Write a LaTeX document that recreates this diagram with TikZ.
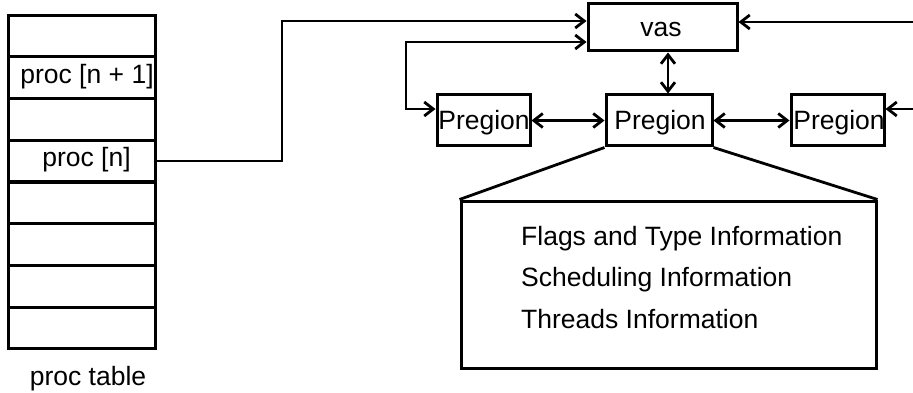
\documentclass[tikz,border=0pt]{standalone}
\usepackage{fontspec}
\setmainfont{Liberation Sans}
\usetikzlibrary{arrows.meta,calc}
\begin{document}
\begin{tikzpicture}[x=1pt,y=-1pt,
  every node/.style={font=\fontsize{26.5}{30}\selectfont, inner sep=0pt},
  box/.style={draw, line width=3pt},
  row/.style={box, minimum width=147pt, minimum height=41.75pt},
  conn/.style={line width=2.8pt},
  arr/.style={conn, -{Straight Barb[length=9pt,width=14pt,line width=2.8pt]}},
  arrr/.style={conn, {Straight Barb[length=9pt,width=14pt,line width=2.8pt]}-{Straight Barb[length=9pt,width=14pt,line width=2.8pt]}}
]
\useasboundingbox (0,0) rectangle (913,393);
% proc table
\node[row] (r1) at (81.5,35.9) {};
\node[row] (r2) at (81.5,77.6) {};
\node[row] (r3) at (81.5,119.4) {};
\node[row] (r4) at (81.5,161.1) {};
\node[row] (r5) at (81.5,202.9) {};
\node[row] (r6) at (81.5,244.6) {};
\node[row] (r7) at (81.5,286.4) {};
\node[row] (r8) at (81.5,328.1) {};
\node[anchor=base] (l2) at (87,84) {proc [n + 1]};
\node[anchor=base] (l4) at (86.5,166) {proc [n]};
\node[anchor=base] (ptab) at (88,385) {proc table};
% vas and pregions
\node[box, minimum width=149pt, minimum height=47pt] (vas) at (662.5,27.5) {};
\node[anchor=base] (vast) at (661,36.5) {vas};
\node[box, minimum width=93pt, minimum height=51pt] (p1) at (483.5,120.5) {};
\node[box, minimum width=106pt, minimum height=51pt] (p2) at (659,120.5) {};
\node[box, minimum width=93pt, minimum height=51pt] (p3) at (837.5,120.5) {};
\node[anchor=base] (p1t) at (484,130) {Pregion};
\node[anchor=base] (p2t) at (660,130) {Pregion};
\node[anchor=base] (p3t) at (839,130) {Pregion};
% info box
\node[box, minimum width=415pt, minimum height=167pt] (info) at (668.5,284.5) {};
\node[anchor=base west] (t1) at (521,245) {Flags and Type Information};
\node[anchor=base west] (t2) at (521,286.5) {Scheduling Information};
\node[anchor=base west] (t3) at (521,328) {Threads Information};
\draw[conn] (p2.south west) -- (info.north west);
\draw[conn] (p2.south east) -- (info.north east);
% connectors
\coordinate (j1) at (282,21);
\coordinate (j2) at (406,42);
\coordinate (e1) at (913,22);
\coordinate (e2) at (913,109);
\draw[arr] (r4.east) -| (j1) -- (j1 -| vas.west);
\draw[arrr] (j2 -| vas.west) -- (j2) |- ($(p1.west)+(0,-11.5)$);
\draw[arr] (e1) -- (e1 -| vas.east);
\draw[arr] (e2) -- (e2 -| p3.east);
\draw[arrr] ([xshift=5.5pt]vas.south) -- ([xshift=5.5pt]vas.south |- p2.north);
\draw[arrr] (p1.east) -- (p2.west);
\draw[arrr] (p2.east) -- (p3.west);
\end{tikzpicture}
\end{document}
